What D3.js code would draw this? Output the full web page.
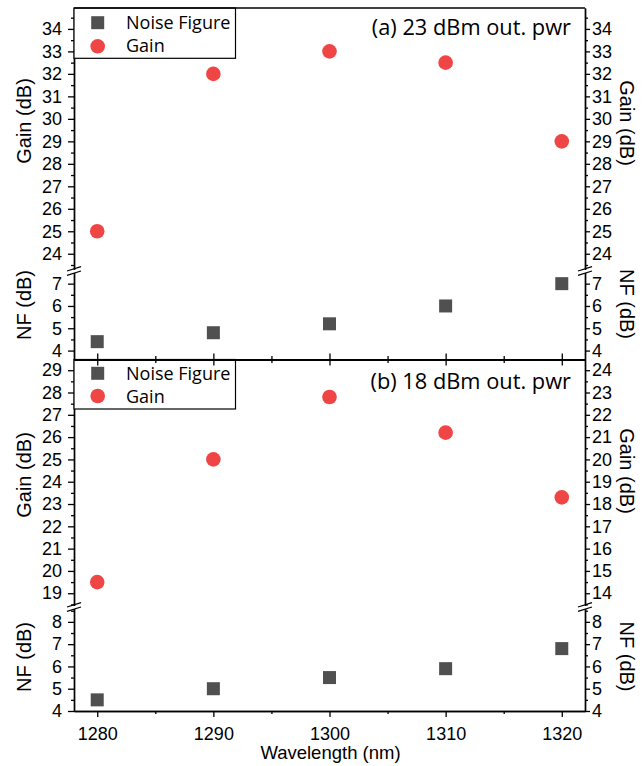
<!DOCTYPE html>
<html><head><meta charset="utf-8">
<script src="https://cdn.jsdelivr.net/npm/d3@7"></script>
<style>body{margin:0;background:#fff}</style>
</head><body>
<svg id="c" width="643" height="766"></svg>
<script>
// ---- data ----
const wavelengths = [1280, 1290, 1300, 1310, 1320];
const gainA = [25, 32, 33, 32.5, 29];
const nfA = [4.4, 4.8, 5.2, 6.0, 7.0];
const gainB = [19.5, 25, 27.8, 26.2, 23.3];
const nfB = [4.5, 5.0, 5.5, 5.9, 6.8];
const titleA = "(a) 23 dBm out. pwr";
const titleB = "(b) 18 dBm out. pwr";
const legendLabels = ["Noise Figure", "Gain"];
const xTicks = [1280, 1290, 1300, 1310, 1320];
const xMinorTicks = [1285, 1295, 1305, 1315];
const gainTicksA = [24, 25, 26, 27, 28, 29, 30, 31, 32, 33, 34];
const nfTicksA = [4, 5, 6, 7];
const gainTicksB = [19, 20, 21, 22, 23, 24, 25, 26, 27, 28, 29];
const gainTicksBRight = [14, 15, 16, 17, 18, 19, 20, 21, 22, 23, 24];
const nfTicksB = [4, 5, 6, 7, 8];
const xLabel = "Wavelength (nm)";
const gainLabel = "Gain (dB)";
const nfLabel = "NF (dB)";

// ---- layout ----
const svg = d3.select("#c");
const L = 74, R = 585;
const SQ = "#505050", CI = "#f04545";
const tickFont = "'Liberation Sans', Arial, sans-serif";
const x = d3.scaleLinear().domain([1278, 1322]).range([L, R]);

const panels = [
  { gain: gainA, nf: nfA, title: titleA,
    gDom: [23.3, 34.93], gRange: [269.5, 8], gTicks: gainTicksA, gTicksR: gainTicksA, rShift: 0,
    nDom: [3.6, 7.5], nRange: [359.5, 272.5], nTicks: nfTicksA,
    top: 8, bottom: 359.5, brk: 271, titleY: 34.5,
    gLabelY: 121, nLabelY: 305, gLabelYR: 123, nLabelYR: 304,
    legY: [22.7, 46.3], legTextY: [29.3, 52], legBox: [8, 58.3] },
  { gain: gainB, nf: nfB, title: titleB,
    gDom: [18.45, 29.48], gRange: [605.5, 359.5], gTicks: gainTicksB, gTicksR: gainTicksBRight, rShift: -5,
    nDom: [4, 8.6], nRange: [711, 608.5], nTicks: nfTicksB,
    top: 359.5, bottom: 711, brk: 607, titleY: 389,
    gLabelY: 475, nLabelY: 657, gLabelYR: 471, nLabelYR: 656.5,
    legY: [373.3, 396], legTextY: [379.5, 402.7], legBox: [359.5, 409] }
];

function halves(dom) {
  return d3.range(Math.ceil(dom[0] - 0.5) + 0.5, dom[1], 1).filter(v => v >= dom[0] && v <= dom[1]);
}

function styleAxis(g) {
  g.selectAll("path.domain").attr("stroke", "#000").attr("stroke-width", 1.4);
  g.selectAll(".tick line").attr("stroke", "#000").attr("stroke-width", 1.3);
  g.selectAll("text").attr("font-family", tickFont).attr("font-size", 18).attr("fill", "#000");
}

panels.forEach(p => {
  const yg = d3.scaleLinear().domain(p.gDom).range(p.gRange);
  const yn = d3.scaleLinear().domain(p.nDom).range(p.nRange);
  const ygR = d3.scaleLinear().domain([p.gDom[0] + p.rShift, p.gDom[1] + p.rShift]).range(p.gRange);

  // data marks
  const data = wavelengths.map((w, i) => ({ w, g: p.gain[i], n: p.nf[i] }));
  svg.append("g").selectAll("rect").data(data).join("rect")
    .attr("x", d => x(d.w) - 6.5).attr("y", d => yn(d.n) - 6.5)
    .attr("width", 13).attr("height", 13).attr("fill", SQ);
  svg.append("g").selectAll("circle").data(data).join("circle")
    .attr("cx", d => x(d.w)).attr("cy", d => yg(d.g)).attr("r", 7.3).attr("fill", CI);

  // left axes
  [[yg, p.gTicks, p.gDom], [yn, p.nTicks, p.nDom]].forEach(([s, t, dom]) => {
    svg.append("g").attr("transform", `translate(${L},0)`)
      .call(d3.axisLeft(s).tickValues(halves(dom)).tickSize(3).tickSizeOuter(0).tickFormat(""))
      .call(styleAxis);
    svg.append("g").attr("transform", `translate(${L},0)`)
      .call(d3.axisLeft(s).tickValues(t).tickSize(6).tickSizeOuter(0).tickPadding(6).tickFormat(d3.format("d")))
      .call(styleAxis);
  });
  // right axes
  [[ygR, p.gTicksR, ygR.domain()], [yn, p.nTicks, p.nDom]].forEach(([s, t, dom]) => {
    svg.append("g").attr("transform", `translate(${R},0)`)
      .call(d3.axisRight(s).tickValues(halves(dom)).tickSize(3).tickSizeOuter(0).tickFormat(""))
      .call(styleAxis);
    svg.append("g").attr("transform", `translate(${R},0)`)
      .call(d3.axisRight(s).tickValues(t).tickSize(5).tickSizeOuter(0).tickPadding(2).tickFormat(d3.format("d")))
      .call(styleAxis);
  });

  // axis breaks
  [L, R].forEach(ax => {
    [-2.2, 2.2].forEach(o => {
      svg.append("line")
        .attr("x1", ax - 7).attr("y1", p.brk + o + 2.2)
        .attr("x2", ax + 7).attr("y2", p.brk + o - 2.2)
        .attr("stroke", "#000").attr("stroke-width", 1.2);
    });
  });

  // axis titles
  const tt = (txt, cx, cy, rot) => svg.append("text")
    .attr("transform", `translate(${cx},${cy}) rotate(${rot})`)
    .attr("text-anchor", "middle").attr("dy", "0.35em")
    .attr("font-family", tickFont).attr("font-size", 20).text(txt);
  tt(gainLabel, 24, p.gLabelY, -90);
  tt(nfLabel, 24, p.nLabelY, -90);
  tt(gainLabel, 627, p.gLabelYR, 90);
  tt(nfLabel, 627, p.nLabelYR, 90);

  // panel title
  svg.append("text").attr("x", 571).attr("y", p.titleY).attr("text-anchor", "end")
    .attr("font-family", "'Open Sans', sans-serif").attr("font-size", 21.8).text(p.title);

  // legend
  svg.append("rect").attr("x", L).attr("y", p.legBox[0]).attr("width", 161.5).attr("height", p.legBox[1] - p.legBox[0])
    .attr("fill", "#fff").attr("stroke", "#000").attr("stroke-width", 1.2);
  svg.append("rect").attr("x", 97.7 - 6.5).attr("y", p.legY[0] - 6.5).attr("width", 13).attr("height", 13).attr("fill", SQ);
  svg.append("circle").attr("cx", 97.7).attr("cy", p.legY[1]).attr("r", 7.3).attr("fill", CI);
  legendLabels.forEach((lab, i) => {
    svg.append("text").attr("x", 126).attr("y", p.legTextY[i])
      .attr("font-family", "'Open Sans', sans-serif").attr("font-size", 18).text(lab);
  });
});

// top frame
svg.append("line").attr("x1", L).attr("x2", R).attr("y1", 8).attr("y2", 8)
  .attr("stroke", "#000").attr("stroke-width", 1.4);

// middle x axis (crossing ticks, no labels)
svg.append("g").attr("transform", "translate(0,359.5)")
  .call(d3.axisBottom(x).tickValues(xMinorTicks).tickSize(3.5).tickSizeOuter(0).tickFormat(""))
  .call(styleAxis);
svg.append("g").attr("transform", "translate(0,359.5)")
  .call(d3.axisTop(x).tickValues(xMinorTicks).tickSize(3.5).tickSizeOuter(0).tickFormat(""))
  .call(styleAxis);
svg.append("g").attr("transform", "translate(0,359.5)")
  .call(d3.axisBottom(x).tickValues(xTicks).tickSize(6).tickSizeOuter(0).tickFormat(""))
  .call(styleAxis);
svg.append("g").attr("transform", "translate(0,359.5)")
  .call(d3.axisTop(x).tickValues(xTicks).tickSize(6).tickSizeOuter(0).tickFormat(""))
  .call(styleAxis);

// bottom x axis
svg.append("g").attr("transform", "translate(0,711)")
  .call(d3.axisBottom(x).tickValues(xMinorTicks).tickSize(3).tickSizeOuter(0).tickFormat(""))
  .call(styleAxis);
svg.append("g").attr("transform", "translate(0,711)")
  .call(d3.axisBottom(x).tickValues(xTicks).tickSize(6).tickSizeOuter(0).tickPadding(10).tickFormat(d3.format("d")))
  .call(styleAxis);

svg.append("text").attr("x", (L + R) / 2 + 1).attr("y", 759).attr("text-anchor", "middle")
  .attr("font-family", tickFont).attr("font-size", 18.5).text(xLabel);
</script>
</body></html>
